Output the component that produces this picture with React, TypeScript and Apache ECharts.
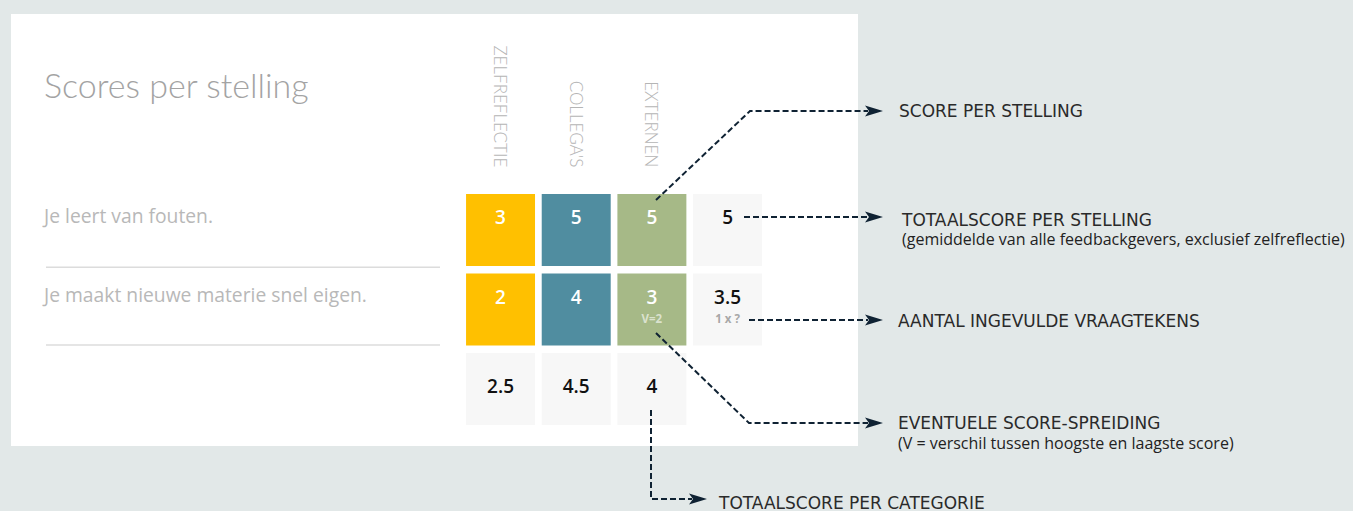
import React, { useEffect, useRef } from "react";
import * as echarts from "echarts";

// ---- data ----
const categories = ["ZELFREFLECTIE", "COLLEGA'S", "EXTERNEN", ""];
const statements = ["Je leert van fouten.", "Je maakt nieuwe materie snel eigen.", ""];
const zelfreflectie = [3, 2];
const collegas = [5, 4];
const externen = [5, 3];
const statementTotals = [5, 3.5];
const categoryTotals = [2.5, 4.5, 4];
const externenSpread = ["", "V=2"];
const questionMarks = ["", "1 x ?"];

const columnColors = ["#FFC000", "#508DA0", "#A6B987"];
const totalColor = "#F7F7F7";

type Cell = { c: number; r: number; v: number; sub: string; total: boolean };
const cells: Cell[] = [];
[zelfreflectie, collegas, externen].forEach((vals, c) =>
  vals.forEach((v, r) =>
    cells.push({ c, r, v, sub: c === 2 ? externenSpread[r] : "", total: false })
  )
);
statementTotals.forEach((v, r) => cells.push({ c: 3, r, v, sub: questionMarks[r], total: true }));
categoryTotals.forEach((v, c) => cells.push({ c, r: 2, v, sub: "", total: true }));

const DARK = "#0f2233";

function arrow(tipX: number, y: number) {
  return {
    type: "polygon",
    shape: { points: [[tipX, y], [tipX - 18, y - 5.5], [tipX - 14, y], [tipX - 18, y + 5.5]] },
    style: { fill: DARK },
    z: 10,
  };
}
function dashed(points: number[][]) {
  return {
    type: "polyline",
    shape: { points },
    style: { stroke: DARK, lineWidth: 2, lineDash: [6, 3], fill: null },
    z: 10,
  };
}
function label(text: string, x: number, y: number, sub = false) {
  return {
    type: "text",
    x,
    y,
    style: {
      text,
      fill: sub ? "#222" : "#2a2a2a",
      fontFamily: sub ? "Open Sans" : "DejaVu Sans",
      fontSize: sub ? 16 : 17,
      fontWeight: 400,
      align: "left",
      verticalAlign: "middle",
      lineHeight: sub ? 16 : 17,
    },
    z: 10,
  };
}

export default function App() {
  const ref = useRef<HTMLDivElement>(null);
  useEffect(() => {
    if (!ref.current) return;
    const chart = echarts.init(ref.current, undefined, { renderer: "svg" });
    chart.setOption({
      animation: false,
      backgroundColor: "#E2E8E8",
      title: {
        text: "Scores per stelling",
        left: 39,
        top: 62,
        textStyle: { fontFamily: "Lato", fontWeight: 300, fontSize: 34, color: "#a3a3a3" },
      },
      grid: { left: 462.7, top: 190.25, width: 302.7, height: 238.5 },
      xAxis: {
        type: "category",
        position: "top",
        data: categories,
        axisLine: { show: false },
        axisTick: { show: false },
        splitLine: { show: false },
        axisLabel: {
          rotate: 90,
          margin: 23,
          color: "#b5b5b5",
          fontFamily: "Lato",
          fontWeight: 300,
          fontSize: 17,
          interval: 0,
        },
      },
      yAxis: {
        type: "category",
        inverse: true,
        data: statements,
        axisLine: { show: false },
        axisTick: { show: false },
        splitLine: { show: false },
        axisLabel: {
          align: "left",
          verticalAlign: "bottom",
          lineHeight: 30,
          margin: 418.7,
          color: "#b8b8b8",
          fontFamily: "Open Sans",
          fontSize: 19.3,
          interval: 0,
        },
      },
      series: [
        {
          type: "custom",
          data: cells.map((d) => [d.c, d.r, d.v]),
          encode: { x: 0, y: 1 },
          renderItem: (params: any, api: any) => {
            const d = cells[params.dataIndex];
            const p = api.coord([api.value(0), api.value(1)]);
            const s = api.size([1, 1]);
            const w = s[0] - 6.7;
            const h = s[1] - 7.5;
            const left = p[0] - w / 2;
            const top = p[1] - h / 2;
            const fill = d.total ? totalColor : columnColors[d.c];
            const numY = d.r === 2 ? top + 33 : top + 23;
            const children: any[] = [
              { type: "rect", shape: { x: left, y: top, width: w, height: h }, style: { fill } },
              {
                type: "text",
                style: {
                  text: String(d.v),
                  x: p[0],
                  y: numY,
                  align: "center",
                  verticalAlign: "middle",
                  fill: d.total ? "#111" : "#fff",
                  fontFamily: "Open Sans",
                  fontWeight: 600,
                  fontSize: 19,
                },
              },
            ];
            if (d.sub) {
              children.push({
                type: "text",
                style: {
                  text: d.sub,
                  x: p[0],
                  y: top + 45,
                  align: "center",
                  verticalAlign: "middle",
                  fill: d.total ? "#a8a8a8" : "rgba(255,255,255,0.6)",
                  fontFamily: "Open Sans",
                  fontWeight: 700,
                  fontSize: 11.5,
                },
              });
            }
            return { type: "group", children };
          },
        },
      ],
      graphic: [
        { type: "rect", shape: { x: 11, y: 14, width: 847, height: 432 }, style: { fill: "#fff" }, z: -10 },
        { type: "line", shape: { x1: 46, y1: 267.3, x2: 440, y2: 267.3 }, style: { stroke: "#dcdcdc", lineWidth: 1.5 } },
        { type: "line", shape: { x1: 46, y1: 345, x2: 440, y2: 345 }, style: { stroke: "#dcdcdc", lineWidth: 1.5 } },
        dashed([[656, 200], [750, 111], [868, 111]]),
        arrow(883, 111),
        label("SCORE PER STELLING", 899, 111),
        dashed([[744, 217], [868, 217]]),
        arrow(883, 217),
        label("TOTAALSCORE PER STELLING", 902, 220),
        label("(gemiddelde van alle feedbackgevers, exclusief zelfreflectie)", 902, 238.5, true),
        dashed([[749, 320], [868, 320]]),
        arrow(883, 320),
        label("AANTAL INGEVULDE VRAAGTEKENS", 898, 321),
        dashed([[656, 333], [749, 423], [868, 423]]),
        arrow(883, 423),
        label("EVENTUELE SCORE-SPREIDING", 898, 423),
        label("(V = verschil tussen hoogste en laagste score)", 898, 443, true),
        dashed([[651, 410], [651, 499], [692, 499]]),
        arrow(707, 499),
        label("TOTAALSCORE PER CATEGORIE", 719, 502.5),
      ],
    });
    return () => chart.dispose();
  }, []);
  return (
    <div
      ref={ref}
      style={{ position: "fixed", left: 0, top: 0, width: 1353, height: 511 }}
    />
  );
}
